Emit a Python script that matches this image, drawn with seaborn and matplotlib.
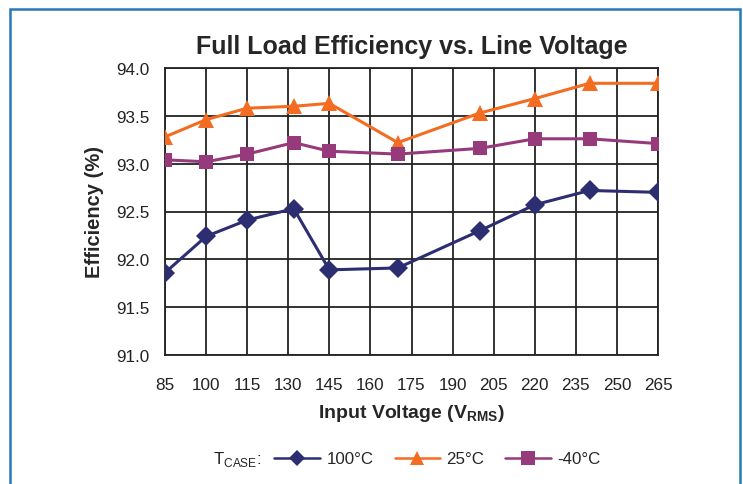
import numpy as np
import pandas as pd
import seaborn as sns
import matplotlib.pyplot as plt
from matplotlib.patches import Rectangle

# input voltage (Vrms) where measurements were taken
voltage = [85, 100, 115, 132, 145, 170, 200, 220, 240, 265]

# efficiency (%) per case temperature
eff_100c = [91.86, 92.24, 92.41, 92.53, 91.89, 91.91, 92.30, 92.57, 92.72, 92.70]
eff_25c = [93.28, 93.46, 93.58, 93.60, 93.63, 93.22, 93.53, 93.68, 93.84, 93.84]
eff_m40c = [93.04, 93.02, 93.10, 93.22, 93.13, 93.10, 93.16, 93.26, 93.26, 93.21]

series_names = ["100°C", "25°C", "-40°C"]
xticks = list(range(85, 266, 15))
yticks = [91.0, 91.5, 92.0, 92.5, 93.0, 93.5, 94.0]

df = pd.DataFrame({
    "voltage": voltage * 3,
    "eff": eff_100c + eff_25c + eff_m40c,
    "tcase": [series_names[0]] * 10 + [series_names[1]] * 10 + [series_names[2]] * 10,
})

sns.set_style("white")
plt.rcParams['font.family'] = ['Liberation Sans', 'DejaVu Sans']
plt.rcParams['mathtext.fontset'] = 'custom'
plt.rcParams['mathtext.rm'] = 'Liberation Sans'
plt.rcParams['mathtext.bf'] = 'Liberation Sans:bold'

colors = {"100°C": "#2d2e72", "25°C": "#f36c21", "-40°C": "#963a7b"}
markers = {"100°C": "D", "25°C": "^", "-40°C": "s"}
msize = {"100°C": 10, "25°C": 11, "-40°C": 10.5}
leg_msize = {"100°C": 8.5, "25°C": 10, "-40°C": 9.5}

fig = plt.figure(figsize=(7.43, 4.85), dpi=100)
ax = fig.add_axes([165 / 743, 1 - 356 / 485, (658 - 165) / 743, (356 - 69) / 485])

sns.lineplot(data=df, x="voltage", y="eff", hue="tcase", style="tcase",
             palette=colors, markers=markers, dashes=False, ax=ax,
             linewidth=2.2, markersize=9, markeredgewidth=0, zorder=3)

# per-series marker sizes (first three lines are the data series)
for line, name in zip(ax.get_lines()[:3], series_names):
    line.set_markersize(msize[name])

ax.set_xlim(85, 265)
ax.set_ylim(91.0, 94.0)
ax.set_xticks(xticks)
ax.set_yticks(yticks)
ax.set_yticklabels([f"{v:.1f}" for v in yticks])
ax.grid(True, color="#222222", linewidth=1.3)
for s in ax.spines.values():
    s.set_color("#222222")
    s.set_linewidth(1.3)
ax.tick_params(axis="both", direction="out", length=5, width=1.1, color="#222222",
               labelsize=12.3, labelcolor="#222222")
ax.tick_params(axis="x", pad=11)
ax.tick_params(axis="y", pad=6)

ax.set_title("Full Load Efficiency vs. Line Voltage", fontsize=18, fontweight="bold", pad=11)
ax.set_xlabel(r"Input Voltage (V$_{\mathbf{RMS}}$)", fontsize=14, fontweight="bold", labelpad=7)
ax.set_ylabel("Efficiency (%)", fontsize=14.5, fontweight="bold", labelpad=9)

handles, labels = ax.get_legend_handles_labels()
ax.get_legend().remove()
for h, lab in zip(handles, labels):
    h.set_markersize(leg_msize.get(lab, 9))
    h.set_linewidth(1.8)
fig.legend(handles, labels, loc="center", bbox_to_anchor=(437.5 / 743, 1 - 460 / 485),
           ncol=3, frameon=False, fontsize=12.2, handlelength=2.7,
           columnspacing=1.25, handletextpad=0.36)
fig.text(213 / 743, 1 - 460 / 485, r"T$_{\mathrm{CASE}}$:", fontsize=12.2,
         ha="left", va="center", color="#222222")

# blue frame around the figure
fig.patches.append(Rectangle((10 / 743, -0.05), (740 - 10) / 743, 1.05 - 10 / 485,
                             transform=fig.transFigure, fill=False,
                             edgecolor="#2878b8", linewidth=1.8))

fig.savefig("out.png", dpi=100)
